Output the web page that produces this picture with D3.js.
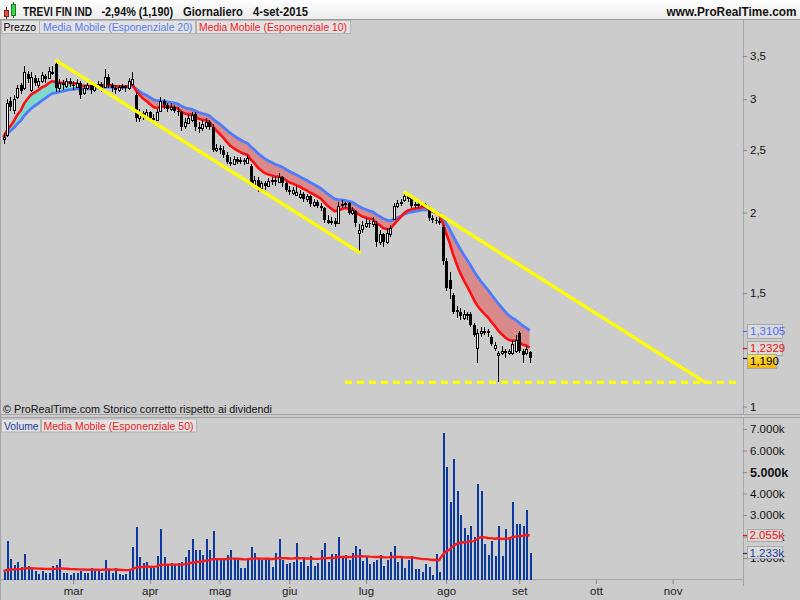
<!DOCTYPE html>
<html><head><meta charset="utf-8">
<script src="https://cdn.jsdelivr.net/npm/d3@7"></script>
<style>body{margin:0;background:#ccc;}svg{display:block;font-family:"Liberation Sans",Arial,sans-serif;}</style>
</head><body><svg id="c" width="800" height="600"></svg>
<script>
// ---------- DATA (trading days 2-feb-2015 .. 4-set-2015) ----------
const openP = [
2.60,2.64,2.98,2.88,3.02,3.15,3.12,3.28,3.10,3.24,
3.16,3.20,3.26,3.24,3.30,3.40,3.12,3.18,3.14,3.20,
3.16,3.14,3.18,3.06,3.12,3.15,3.10,3.14,3.17,3.14,
3.25,3.15,3.12,3.10,3.13,3.14,3.12,3.16,3.05,2.80,
2.85,2.82,2.86,2.80,2.78,2.88,2.98,2.94,2.90,2.92,
2.88,2.86,2.72,2.75,2.78,2.84,2.72,2.70,2.72,2.76,
2.72,2.50,2.52,2.50,2.46,2.40,2.38,2.42,2.40,2.41,
2.39,2.36,2.22,2.25,2.18,2.22,2.20,2.24,2.25,2.23,
2.27,2.22,2.17,2.15,2.13,2.12,2.14,2.10,2.12,2.06,
2.08,2.05,2.03,1.95,1.93,1.94,1.93,2.05,2.06,2.07,
2.00,2.01,1.86,1.88,1.91,1.93,1.92,1.92,1.80,1.85,
1.80,1.85,1.96,2.05,2.07,2.09,2.12,2.11,2.05,2.06,
2.05,2.06,2.04,1.96,1.95,1.94,1.90,1.68,1.57,1.49,
1.41,1.40,1.37,1.39,1.39,1.34,1.23,1.30,1.31,1.31,
1.28,1.23,1.20,1.21,1.22,1.21,1.21,1.22,1.30,1.22,
1.21,1.215];
const highP = [
2.66,3.00,3.02,3.04,3.15,3.18,3.38,3.32,3.30,3.27,
3.24,3.30,3.28,3.36,3.38,3.45,3.22,3.21,3.24,3.23,
3.20,3.22,3.20,3.15,3.18,3.16,3.17,3.20,3.19,3.34,
3.28,3.18,3.15,3.16,3.17,3.16,3.24,3.30,3.08,2.90,
2.88,2.90,2.88,2.84,2.90,3.02,3.00,2.96,2.96,2.94,
2.92,2.88,2.80,2.84,2.86,2.86,2.76,2.78,2.80,2.78,
2.74,2.56,2.55,2.54,2.48,2.44,2.45,2.44,2.44,2.43,
2.46,2.38,2.28,2.27,2.24,2.24,2.26,2.27,2.27,2.30,
2.28,2.24,2.20,2.19,2.20,2.17,2.15,2.14,2.13,2.10,
2.09,2.07,2.04,1.98,1.97,1.96,2.08,2.09,2.08,2.08,
2.04,2.02,1.92,1.94,1.96,1.95,1.97,1.94,1.88,1.86,
1.89,1.91,2.07,2.09,2.10,2.15,2.14,2.12,2.08,2.07,
2.08,2.07,2.05,1.98,1.97,1.96,1.91,1.70,1.62,1.50,
1.43,1.42,1.41,1.40,1.40,1.35,1.32,1.33,1.33,1.32,
1.29,1.26,1.22,1.24,1.23,1.23,1.27,1.29,1.31,1.23,
1.24,1.22];
const lowP = [
2.56,2.62,2.88,2.84,3.00,3.06,3.10,3.18,3.08,3.14,
3.12,3.18,3.18,3.22,3.27,3.08,3.08,3.10,3.12,3.13,
3.10,3.12,3.00,3.04,3.10,3.06,3.08,3.12,3.08,3.12,
3.12,3.08,3.06,3.08,3.10,3.08,3.10,3.14,2.76,2.76,
2.78,2.80,2.76,2.74,2.77,2.86,2.90,2.86,2.88,2.85,
2.82,2.68,2.70,2.74,2.76,2.68,2.66,2.68,2.70,2.69,
2.48,2.48,2.47,2.43,2.38,2.36,2.37,2.38,2.38,2.37,
2.38,2.20,2.20,2.15,2.16,2.17,2.19,2.21,2.20,2.22,
2.19,2.15,2.13,2.13,2.12,2.10,2.08,2.08,2.04,2.04,
2.03,2.01,1.93,1.92,1.91,1.90,1.92,2.03,2.03,1.98,
1.98,1.90,1.74,1.86,1.89,1.89,1.90,1.77,1.78,1.77,
1.79,1.83,1.95,2.03,2.05,2.08,2.08,2.03,2.03,2.03,
2.04,2.03,1.94,1.93,1.92,1.91,1.66,1.51,1.47,1.39,
1.37,1.36,1.36,1.36,1.33,1.28,1.17,1.28,1.29,1.28,
1.24,1.22,1.09,1.20,1.19,1.20,1.20,1.21,1.21,1.17,
1.20,1.17];
const closeP = [
2.62,2.96,2.92,3.00,3.12,3.09,3.30,3.22,3.25,3.18,
3.20,3.27,3.22,3.32,3.30,3.12,3.18,3.15,3.20,3.17,
3.14,3.18,3.05,3.12,3.15,3.10,3.14,3.17,3.12,3.25,
3.15,3.12,3.10,3.13,3.14,3.12,3.20,3.22,2.80,2.84,
2.82,2.86,2.80,2.78,2.86,2.98,2.94,2.90,2.92,2.88,
2.86,2.72,2.76,2.80,2.83,2.72,2.70,2.74,2.76,2.72,
2.50,2.52,2.50,2.46,2.40,2.38,2.42,2.40,2.41,2.40,
2.43,2.22,2.25,2.18,2.22,2.20,2.24,2.25,2.23,2.27,
2.22,2.17,2.15,2.17,2.15,2.14,2.10,2.12,2.06,2.08,
2.05,2.03,1.95,1.93,1.94,1.92,2.05,2.06,2.07,2.00,
2.02,1.93,1.88,1.91,1.93,1.92,1.94,1.80,1.85,1.80,
1.86,1.89,2.05,2.07,2.08,2.12,2.10,2.05,2.06,2.05,
2.06,2.05,1.96,1.95,1.94,1.93,1.68,1.53,1.52,1.40,
1.40,1.38,1.39,1.38,1.34,1.29,1.30,1.31,1.31,1.30,
1.25,1.245,1.21,1.22,1.21,1.22,1.25,1.27,1.22,1.20,
1.226,1.19];
// volume in thousands of shares
const volume = [
360,1800,950,670,800,600,1190,630,530,400,
250,400,300,300,630,670,950,300,280,210,
300,300,400,300,280,530,400,400,300,900,
450,300,530,250,210,250,450,1500,2430,1040,
760,800,600,530,1070,2330,1040,670,760,670,
760,800,1040,1350,1870,1350,1350,1120,1870,1380,
2250,900,1000,900,1120,1350,1000,1000,530,530,
1000,1500,1240,1000,900,900,900,600,1240,1900,
900,730,760,800,1700,800,1000,620,1070,620,
760,1350,1680,800,1200,1200,2000,1070,1160,890,
1230,1580,1430,860,1040,700,800,890,1160,620,
920,1270,1580,800,1040,540,920,1070,470,470,
340,730,570,230,1200,340,7050,5250,3600,5600,
4100,3020,2390,2050,2470,2000,4420,4100,1630,1160,
1810,1110,2470,1110,2360,1940,3600,2590,2560,2510,
3210,1233];
const monthLabels = ["mar","apr","mag","giu","lug","ago","set","ott","nov"];
const monthIndex  = [20,42,62,82,104,127,148,170,192];
const priceTicks  = [1,1.5,2,2.5,3,3.5];
const volumeTicks = [1000,2000,3000,4000,5000,6000,7000];
// trend lines: [startIndex, startPrice, endIndex, endPrice]
const trendLine1 = [15.3,3.44,102.1,1.735];
const trendLine2 = [115.2,2.147,201.3,1.09];
const supportLine = [98,210.5,1.09];
const emaSeedPrice = 2.62, emaSeedVolume = 390;
const labelEma20 = "1,3105", labelEma10 = "1,2329", labelClose = "1,190";
const labelVolEma = "2.055k", labelVol = "1.233k";

// ---------- SETUP ----------
const svg = d3.select("#c");
const defs = svg.append("defs");
const PR = 743; // right edge of plots
const P_TOP = 35, P_BOT = 415, V_TOP = 433, V_BOT = 580;

const x  = d3.scaleLinear().domain([0,192]).range([3.5,672.6]);
const y  = d3.scaleLog().domain([1,3.5]).range([406.5,56]);
const vy = d3.scaleLinear().domain([0,7000]).range([579.5,429]);

function ema(vals,n,seed){const a=2/(n+1);let e=seed;return vals.map(v=>(e=e+a*(v-e)));}
const ema10 = ema(closeP,10,emaSeedPrice);
const ema20 = ema(closeP,20,emaSeedPrice);
const vema50 = ema(volume,50,emaSeedVolume);

const hg = defs.append("linearGradient").attr("id","hdr").attr("x1",0).attr("y1",0).attr("x2",0).attr("y2",1);
hg.append("stop").attr("offset","0%").attr("stop-color","#ffffff");
hg.append("stop").attr("offset","100%").attr("stop-color","#ebebeb");
const gg = defs.append("linearGradient").attr("id","gold").attr("x1",0).attr("y1",0).attr("x2",0).attr("y2",1);
gg.append("stop").attr("offset","0%").attr("stop-color","#ffe34a");
gg.append("stop").attr("offset","100%").attr("stop-color","#f2b400");

defs.append("clipPath").attr("id","cp").append("rect").attr("x",0).attr("y",P_TOP).attr("width",PR).attr("height",P_BOT-P_TOP);
defs.append("clipPath").attr("id","cv").append("rect").attr("x",0).attr("y",V_TOP).attr("width",PR).attr("height",V_BOT-V_TOP);
defs.append("clipPath").attr("id","above").append("path")
  .attr("d", d3.area().x((d,i)=>x(i)).y0(P_TOP).y1(d=>y(d))(ema20));
defs.append("clipPath").attr("id","below").append("path")
  .attr("d", d3.area().x((d,i)=>x(i)).y0(d=>y(d)).y1(P_BOT)(ema20));

// background
svg.append("rect").attr("width",800).attr("height",600).attr("fill","#cccccc");
svg.append("rect").attr("width",800).attr("height",19).attr("fill","url(#hdr)");
svg.append("line").attr("x1",0).attr("x2",800).attr("y1",19.5).attr("y2",19.5).attr("stroke","#9c9c9c");
// frame lines
const frame = svg.append("g").attr("stroke","#a4a4a4").attr("shape-rendering","crispEdges");
frame.append("line").attr("x1",PR+0.5).attr("x2",PR+0.5).attr("y1",20).attr("y2",414);
frame.append("line").attr("x1",PR+0.5).attr("x2",PR+0.5).attr("y1",418).attr("y2",586);
frame.append("line").attr("x1",0.5).attr("x2",0.5).attr("y1",20).attr("y2",600);
frame.append("line").attr("x1",0).attr("x2",800).attr("y1",414.5).attr("y2",414.5);
frame.append("line").attr("x1",0).attr("x2",800).attr("y1",417.5).attr("y2",417.5);
frame.append("line").attr("x1",0).attr("x2",PR).attr("y1",579.5).attr("y2",579.5);

// header
const icon = svg.append("g").attr("shape-rendering","crispEdges");
icon.append("line").attr("x1",6.5).attr("x2",6.5).attr("y1",7).attr("y2",19).attr("stroke","#702020");
icon.append("rect").attr("x",4.5).attr("y",10.5).attr("width",4).attr("height",6).attr("fill","#e84a4a").attr("stroke","#8a2020");
icon.append("line").attr("x1",13.5).attr("x2",13.5).attr("y1",2).attr("y2",18).attr("stroke","#206020");
icon.append("rect").attr("x",11.5).attr("y",4.5).attr("width",4).attr("height",11).attr("fill","#3fd24a").attr("stroke","#1f7a25");
const titleParts = [["TREVI FIN IND",23,69],["-2,94% (1,190)",101.5,71.5],["Giornaliero",183,60],["4-set-2015",253,55]];
svg.append("g").selectAll("text").data(titleParts).join("text")
  .attr("x",d=>d[1]).attr("y",15.5).attr("font-size",12.5).attr("font-weight","bold").attr("fill","#111")
  .attr("textLength",d=>d[2]).attr("lengthAdjust","spacingAndGlyphs").text(d=>d[0]);
svg.append("text").attr("x",666.5).attr("y",15.5).attr("font-size",12).attr("font-weight","bold").attr("fill","#111")
  .attr("textLength",130).attr("lengthAdjust","spacingAndGlyphs").text("www.ProRealTime.com");

// legend boxes
function legend(items,y0){
  const g = svg.append("g");
  items.forEach(it=>{
    g.append("rect").attr("x",it.x+0.5).attr("y",y0+0.5).attr("width",it.w).attr("height",13).attr("fill","#e2e2e2").attr("stroke","#b4b4b4");
    g.append("text").attr("x",it.tx).attr("y",y0+11).attr("font-size",11.5).attr("fill",it.c)
      .attr("textLength",it.tl).attr("lengthAdjust","spacingAndGlyphs").text(it.t);
  });
}
legend([{x:1,w:38,t:"Prezzo",tx:3.5,tl:32.5,c:"#000"},
        {x:39,w:156,t:"Media Mobile (Esponenziale 20)",tx:43,tl:149.5,c:"#5a7cf0"},
        {x:196,w:154,t:"Media Mobile (Esponenziale 10)",tx:199,tl:148,c:"#f01c1c"}],20);
legend([{x:1,w:39,t:"Volume",tx:4,tl:34.5,c:"#1c3a9c"},
        {x:41,w:155,t:"Media Mobile (Esponenziale 50)",tx:43.5,tl:150,c:"#f01c1c"}],418.5);

svg.append("text").attr("x",3).attr("y",413).attr("font-size",11.5).attr("fill","#111")
  .attr("textLength",269).attr("lengthAdjust","spacingAndGlyphs")
  .text("© ProRealTime.com  Storico corretto rispetto ai dividendi");

// ---------- PRICE PANEL ----------
const pg = svg.append("g").attr("clip-path","url(#cp)");
const band = d3.area().x((d,i)=>x(i)).y0((d,i)=>y(ema20[i])).y1(d=>y(d));
pg.append("g").attr("clip-path","url(#above)").append("path").attr("d",band(ema10)).attr("fill","#80d9c8");
pg.append("g").attr("clip-path","url(#below)").append("path").attr("d",band(ema10)).attr("fill","#d98a8a");
const lineGen = d3.line().x((d,i)=>x(i)).y(d=>y(d));
pg.append("path").attr("d",lineGen(ema20)).attr("fill","none").attr("stroke","#4d7cff").attr("stroke-width",2.8).attr("stroke-linejoin","round");
pg.append("path").attr("d",lineGen(ema10)).attr("fill","none").attr("stroke","#ff1010").attr("stroke-width",2.6).attr("stroke-linejoin","round");

// candles
const cg = pg.append("g").attr("shape-rendering","crispEdges");
closeP.forEach((c,i)=>{
  const cx = Math.round(x(i));
  const o = openP[i];
  cg.append("line").attr("x1",cx+0.5).attr("x2",cx+0.5).attr("y1",y(highP[i])).attr("y2",y(lowP[i])).attr("stroke","#000");
  const top = y(Math.max(o,c)), bot = y(Math.min(o,c));
  const h = Math.max(1,bot-top);
  if (c >= o) {
    cg.append("rect").attr("x",cx-0.5).attr("y",Math.round(top)+0.5).attr("width",2).attr("height",Math.max(1,Math.round(h)))
      .attr("fill","#fff").attr("stroke","#000");
  } else {
    cg.append("rect").attr("x",cx-1).attr("y",top).attr("width",3).attr("height",h).attr("fill","#000");
  }
});

// trend lines
const tl = pg.append("g").attr("stroke","#ffff00").attr("stroke-width",3.4).attr("fill","none");
[trendLine1,trendLine2].forEach(t=>{
  tl.append("line").attr("x1",x(t[0])).attr("y1",y(t[1])).attr("x2",x(t[2])).attr("y2",y(t[3])).attr("stroke-linecap","round");
});
tl.append("line").attr("x1",x(supportLine[0])).attr("x2",x(supportLine[1])).attr("y1",y(supportLine[2])).attr("y2",y(supportLine[2]))
  .attr("stroke-dasharray","7,5");

// price axis
const pax = svg.append("g").attr("transform",`translate(${PR},0)`)
  .call(d3.axisRight(y).tickValues(priceTicks).tickSize(4).tickPadding(3).tickFormat(d=>String(d).replace(".",",")));
pax.select(".domain").remove();
pax.selectAll("line").attr("stroke","#888");
pax.selectAll("text").attr("font-size",11.5).attr("fill","#111").attr("font-family","Liberation Sans, Arial, sans-serif");

function valueBox(yv,txt,color,fill,w,dy){
  const g = svg.append("g");
  g.append("line").attr("x1",PR).attr("x2",PR+4).attr("y1",Math.round(yv)+0.5).attr("y2",Math.round(yv)+0.5).attr("stroke",color).attr("stroke-width",1.2);
  const yc = yv+dy;
  g.append("rect").attr("x",747.5).attr("y",Math.round(yc-7)+0.5).attr("width",w).attr("height",14).attr("fill",fill).attr("stroke","#a8a8a8");
  g.append("text").attr("x",750).attr("y",yc+4.2).attr("font-size",11.5).attr("fill",color).text(txt);
}
valueBox(y(ema20[ema20.length-1]),labelEma20,"#4d6cff","#dadada",35,0);
valueBox(y(ema10[ema10.length-1]),labelEma10,"#f01010","#dadada",35,0);
valueBox(y(closeP[closeP.length-1]),labelClose,"#000","url(#gold)",29,3);

// ---------- VOLUME PANEL ----------
const vg = svg.append("g").attr("clip-path","url(#cv)");
vg.append("g").attr("shape-rendering","crispEdges").selectAll("rect").data(volume).join("rect")
  .attr("x",(d,i)=>Math.round(x(i))-0.5).attr("width",2).attr("y",d=>vy(d)).attr("height",d=>vy(0)-vy(d)).attr("fill","#0a3a9e");
vg.append("path").attr("d",d3.line().x((d,i)=>x(i)).y(d=>vy(d))(vema50)).attr("fill","none").attr("stroke","#ff1a1a").attr("stroke-width",2.4);

const vax = svg.append("g").attr("transform",`translate(${PR},0)`)
  .call(d3.axisRight(vy).tickValues(volumeTicks).tickSize(4).tickPadding(3).tickFormat(d=>d3.format(",")(d).replace(",",".")+"k"));
vax.select(".domain").remove();
vax.selectAll("line").attr("stroke","#888");
vax.selectAll("text").attr("fill","#111").attr("font-family","Liberation Sans, Arial, sans-serif")
  .attr("font-weight",d=>d===5000?"bold":"normal").attr("font-size",d=>d===5000?12.5:11.5);

const vBox = (val,txt,color)=>{
  const yv = vy(val);
  svg.append("line").attr("x1",PR).attr("x2",PR+4).attr("y1",Math.round(yv)+0.5).attr("y2",Math.round(yv)+0.5).attr("stroke",color).attr("stroke-width",1.2);
  svg.append("rect").attr("x",747.5).attr("y",Math.round(yv-6.5)+0.5).attr("width",35).attr("height",12).attr("fill","#dadada").attr("stroke","#a8a8a8");
  svg.append("text").attr("x",749.5).attr("y",yv+4).attr("font-size",11.5).attr("fill",color).text(txt);
};
vBox(vema50[vema50.length-1],labelVolEma,"#f01010");
vBox(volume[volume.length-1],labelVol,"#1c3a9c");

// ---------- X AXIS ----------
const xax = svg.append("g").attr("transform",`translate(0,${V_BOT})`)
  .call(d3.axisBottom(x).tickValues(monthIndex).tickSize(4).tickPadding(3).tickFormat((d,i)=>monthLabels[i]));
xax.select(".domain").remove();
xax.selectAll("line").attr("stroke","#888");
xax.selectAll("text").attr("font-size",11.5).attr("fill","#222").attr("font-family","Liberation Sans, Arial, sans-serif");
</script></body></html>
